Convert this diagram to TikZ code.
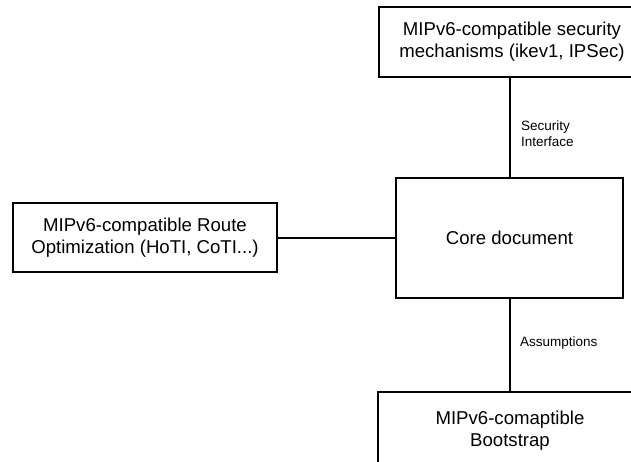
\documentclass[tikz,border=0pt]{standalone}
\usepackage{fontspec}
\setmainfont{Liberation Sans}
\begin{document}
\begin{tikzpicture}[x=1pt,y=-1pt,
  box/.style={draw=black, line width=2pt, rectangle, align=center, inner sep=0pt,
    font=\fontsize{18.6}{22}\selectfont},
  link/.style={draw=black, line width=2pt},
  tag/.style={anchor=west, align=left, inner sep=0pt, font=\fontsize{13.5}{16.5}\selectfont}]
  \useasboundingbox (0,0) rectangle (631,461);
  % boxes
  \node[box, minimum width=266pt, minimum height=70pt] (sec) at (512,42)
    {MIPv6-compatible security\\mechanisms (ikev1, IPSec)};
  \node[box, minimum width=227pt, minimum height=120pt] (core) at (509.5,238)
    {Core document};
  \node[box, minimum width=264pt, minimum height=69pt] (ro) at (145,237.5)
    {MIPv6-compatible Route\\Optimization (HoTI, CoTI...)};
  \node[box, minimum width=264pt, minimum height=78pt] (boot) at (510,431)
    {MIPv6-comaptible\\Bootstrap};
  % connectors
  \draw[link] (core.north) -- (core.north |- sec.south);
  \draw[link] (core.south) -- (core.south |- boot.north);
  \draw[link] (ro.east) -- (ro.east -| core.west);
  % connector labels
  \node[tag] (secif) at (521,133.5) {Security\\Interface};
  \node[tag] (assum) at (520,343) {Assumptions};
\end{tikzpicture}
\end{document}
